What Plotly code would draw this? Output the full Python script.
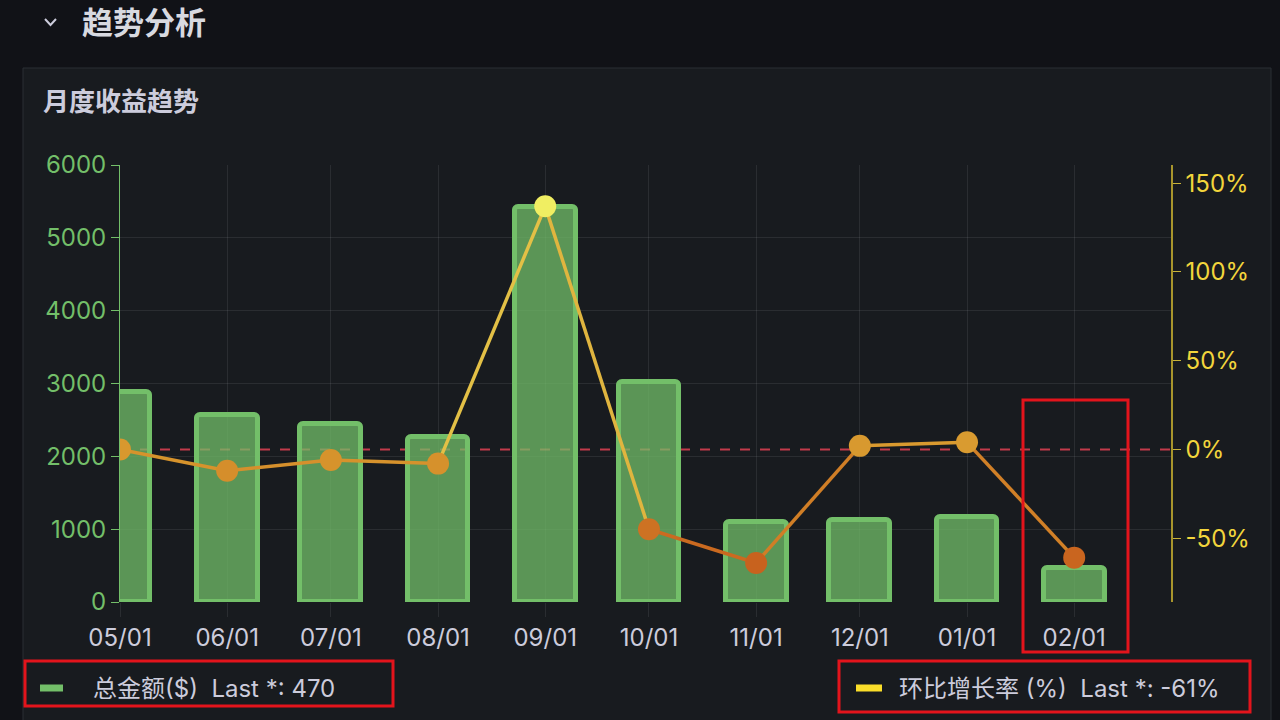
import plotly.graph_objects as go

# ---- data ----
months = ["2024-05-01", "2024-06-01", "2024-07-01", "2024-08-01", "2024-09-01",
          "2024-10-01", "2024-11-01", "2024-12-01", "2025-01-01", "2025-02-01"]
month_labels = ["05/01", "06/01", "07/01", "08/01", "09/01",
                "10/01", "11/01", "12/01", "01/01", "02/01"]
total_amount = [2890, 2570, 2450, 2270, 5430, 3020, 1100, 1120, 1170, 470]
mom_rate = [0, -12, -6, -8, 137, -45, -64, 2, 4, -61]
left_ticks = [0, 1000, 2000, 3000, 4000, 5000, 6000]
right_tickvals = [-50, 0, 50, 100, 150]
right_ticktext = ["-50%", "0%", "50%", "100%", "150%"]
x_range = ["2024-05-01", "2025-03-01"]

W, H = 1280, 720
L, R, T, B = 120, 109, 165, 118
PW, PH = W - L - R, H - T - B

def px(x):
    return (x - L) / PW

def py(y):
    return (H - B - y) / PH

FONT = "Inter, 'Noto Sans CJK SC', sans-serif"

# colour scale for the growth-rate line (by value)
stops = [(-64, (200, 98, 30)), (0, (216, 152, 46)), (137, (240, 238, 98))]

def rate_color(v):
    if v <= stops[0][0]:
        c = stops[0][1]
    elif v >= stops[-1][0]:
        c = stops[-1][1]
    else:
        for (a, ca), (b, cb) in zip(stops[:-1], stops[1:]):
            if a <= v <= b:
                t = (v - a) / (b - a)
                c = tuple(ca[i] + (cb[i] - ca[i]) * t for i in range(3))
                break
    return "rgb(%d,%d,%d)" % tuple(int(round(k)) for k in c)

fig = go.Figure()

fig.add_trace(go.Bar(
    x=months, y=total_amount, width=17.6 * 86400000,
    marker=dict(color="rgba(115,191,105,0.74)", line=dict(color="#73bf69", width=5),
                cornerradius=4),
    name="总金额($)", showlegend=False, hoverinfo="skip",
))

for i in range(len(months) - 1):
    fig.add_trace(go.Scatter(
        x=months[i:i + 2], y=mom_rate[i:i + 2], yaxis="y2", mode="lines",
        line=dict(color=rate_color((mom_rate[i] + mom_rate[i + 1]) / 2), width=3.5),
        showlegend=False, hoverinfo="skip",
    ))

fig.add_trace(go.Scatter(
    x=months, y=mom_rate, yaxis="y2", mode="markers",
    marker=dict(size=22, color=[rate_color(v) for v in mom_rate]),
    name="环比增长率 (%)", showlegend=False, hoverinfo="skip",
))

grid = "rgba(204,204,220,0.10)"

shapes = [
    # panel
    dict(type="rect", xref="paper", yref="paper", x0=px(23), x1=px(1271), y0=py(68), y1=py(760),
         fillcolor="#181b1f", line=dict(color="#2b2e34", width=1), layer="below"),
    # zero threshold
    dict(type="line", xref="paper", yref="y2", x0=0, x1=1, y0=0, y1=0,
         line=dict(color="#c23b4b", width=2, dash="10px,10px"), layer="between"),
    # chevron
    dict(type="path", xref="paper", yref="paper",
         path="M %f,%f L %f,%f L %f,%f" % (px(45), py(19), px(50.5), py(25), px(56), py(19)),
         line=dict(color="#ccccdc", width=2)),
    # legend swatches
    dict(type="rect", xref="paper", yref="paper", x0=px(40), x1=px(63), y0=py(691.5), y1=py(684.5),
         fillcolor="#73bf69", line=dict(width=0)),
    dict(type="rect", xref="paper", yref="paper", x0=px(856), x1=px(882), y0=py(691.5), y1=py(684.5),
         fillcolor="#fade2a", line=dict(width=0)),
    # red highlight boxes
    dict(type="rect", xref="paper", yref="paper", x0=px(25), x1=px(393), y0=py(661), y1=py(706),
         line=dict(color="#e3141c", width=3)),
    dict(type="rect", xref="paper", yref="paper", x0=px(839), x1=px(1250), y0=py(661), y1=py(712),
         line=dict(color="#e3141c", width=3)),
    dict(type="rect", xref="paper", yref="paper", x0=px(1023), x1=px(1128), y0=py(400), y1=py(652),
         line=dict(color="#e3141c", width=3)),
]

annotations = [
    dict(text="趋势分析", x=px(80), y=py(22), xref="paper", yref="paper",
         xanchor="left", yanchor="middle", showarrow=False,
         font=dict(family=FONT, size=31, color="#d8d9e0", weight=600)),
    dict(text="月度收益趋势", x=px(41), y=py(102), xref="paper", yref="paper",
         xanchor="left", yanchor="middle", showarrow=False,
         font=dict(family=FONT, size=26, color="#ccccdc", weight=600)),
    dict(text="总金额($)  Last *: %g" % total_amount[-1], x=px(91), y=py(688),
         xref="paper", yref="paper", xanchor="left", yanchor="middle", showarrow=False,
         font=dict(family=FONT, size=24, color="#ccccdc")),
    dict(text="环比增长率 (%%)  Last *: %g%%" % mom_rate[-1], x=px(897), y=py(688),
         xref="paper", yref="paper", xanchor="left", yanchor="middle", showarrow=False,
         font=dict(family=FONT, size=24, color="#ccccdc")),
]

fig.update_layout(
    width=W, height=H, autosize=False,
    margin=dict(l=L, r=R, t=T, b=B, pad=0),
    paper_bgcolor="#111217", plot_bgcolor="rgba(0,0,0,0)",
    showlegend=False, bargap=0,
    font=dict(family=FONT, color="#ccccdc"),
    xaxis=dict(type="date", range=x_range, tickvals=months, ticktext=month_labels,
               showgrid=True, gridcolor=grid, gridwidth=1, zeroline=False,
               ticks="outside", ticklen=14, tickcolor=grid, tickwidth=1,
               showline=False, tickfont=dict(family=FONT, size=24, color="#ccccdc")),
    yaxis=dict(range=[0, 6000], tickvals=left_ticks, showgrid=True, gridcolor=grid,
               zeroline=False, showline=True, linecolor="#73bf69", linewidth=1,
               ticks="outside", ticklen=8, tickcolor="#73bf69",
               tickfont=dict(family=FONT, size=24, color="#73bf69")),
    yaxis2=dict(range=[-86, 160.3], overlaying="y", side="right", tickvals=right_tickvals,
                ticktext=right_ticktext, showgrid=False, zeroline=False, showline=True,
                linecolor="#a8952c", linewidth=1.5, ticks="outside", ticklen=8,
                tickcolor="#c9b43a", tickfont=dict(family=FONT, size=24, color="#f2d53c")),
    shapes=shapes, annotations=annotations,
)

fig.write_html("out.html", config={"displayModeBar": False},
               post_script="document.body.style.margin='0px';")
